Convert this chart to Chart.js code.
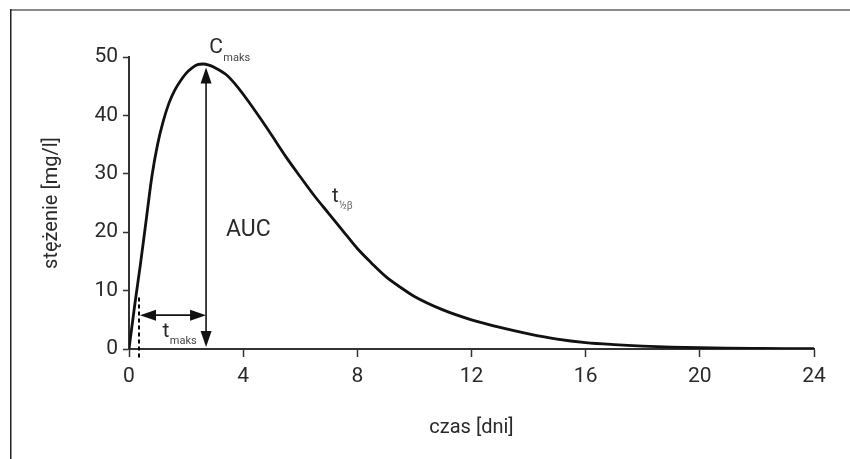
<!DOCTYPE html>
<html>
<head>
<meta charset="utf-8">
<script src="https://cdn.jsdelivr.net/npm/chart.js@4/dist/chart.umd.min.js"></script>
<style>
  html, body { margin: 0; padding: 0; background: #fff; }
  #wrap { position: relative; width: 850px; height: 459px; }
</style>
</head>
<body>
<div id="wrap"><canvas id="c" width="850" height="459"></canvas></div>
<script>
// ---- data ----
const timeDays = [0, 0.2, 0.4, 0.6, 0.8, 1.0, 1.2, 1.4, 1.6, 1.8, 2.0, 2.2, 2.4, 2.6, 2.8, 3.0, 3.4, 3.8, 4.2, 4.6, 5.0, 5.5, 6.0, 6.5, 7.0, 7.5, 8.0, 8.5, 9.0, 9.5, 10, 11, 12, 13, 14, 15, 16, 17, 18, 19, 20, 21, 22, 23, 24];
const concentration = [0, 7.5, 14.5, 22, 29.5, 35, 39, 42.1, 44.3, 45.9, 47.2, 48.1, 48.7, 48.8, 48.6, 48.2, 47.0, 44.9, 42.3, 39.5, 36.6, 32.9, 29.5, 26.2, 23.2, 20.2, 17.2, 14.7, 12.4, 10.6, 9.0, 6.7, 5.0, 3.7, 2.6, 1.7, 1.1, 0.75, 0.5, 0.33, 0.22, 0.15, 0.1, 0.06, 0.04];
const xTicks = [0, 4, 8, 12, 16, 20, 24];
const yTicks = [0, 10, 20, 30, 40, 50];
const xTitle = 'czas [dni]';
const yTitle = 'stężenie [mg/l]';
// annotation anchors (data units)
const tMax = 2.7;          // time of Cmax arrow
const cMaxArrowTop = 48.2;
const tLag = 0.35;         // dashed lag line
const tMaxArrowLevel = 5.8;

const FONT = "'Liberation Sans Narrow', 'Roboto', 'Liberation Sans', sans-serif";
const TXT = '#2a2a2a';

const annot = {
  id: 'annot',
  beforeDraw(chart) {
    const ctx = chart.ctx;
    ctx.save();
    ctx.strokeStyle = '#8a8a8a';
    ctx.lineWidth = 2;
    ctx.beginPath(); ctx.moveTo(10, 10); ctx.lineTo(850, 10); ctx.stroke();
    ctx.strokeStyle = '#222';
    ctx.lineWidth = 1.5;
    ctx.beginPath(); ctx.moveTo(10.75, 9); ctx.lineTo(10.75, 459); ctx.stroke();
    ctx.restore();
  },
  afterDatasetsDraw(chart) {
    const ctx = chart.ctx;
    const xs = chart.scales.x, ys = chart.scales.y;
    const X = v => xs.getPixelForValue(v), Y = v => ys.getPixelForValue(v);
    ctx.save();
    ctx.strokeStyle = '#111';
    ctx.fillStyle = '#111';
    ctx.lineWidth = 1.6;
    function head(x, y, dx, dy) {
      const L = 16, W = 5.5;
      const px = -dy, py = dx;
      ctx.beginPath();
      ctx.moveTo(x, y);
      ctx.lineTo(x - dx * L + px * W, y - dy * L + py * W);
      ctx.lineTo(x - dx * L - px * W, y - dy * L - py * W);
      ctx.closePath();
      ctx.fill();
    }
    const vx = X(tMax), vTop = Y(cMaxArrowTop), vBot = Y(0) - 2;
    ctx.beginPath(); ctx.moveTo(vx, vTop + 8); ctx.lineTo(vx, vBot - 8); ctx.stroke();
    head(vx, vTop, 0, -1);
    head(vx, vBot, 0, 1);
    const hy = Y(tMaxArrowLevel), hl = X(tLag) + 1, hr = vx;
    ctx.beginPath(); ctx.moveTo(hl + 8, hy); ctx.lineTo(hr - 8, hy); ctx.stroke();
    head(hl, hy, -1, 0);
    head(hr, hy, 1, 0);
    // dashed lag line
    ctx.setLineDash([4, 3]);
    ctx.lineWidth = 2;
    ctx.strokeStyle = '#000';
    const dx = Math.round(X(tLag));
    ctx.beginPath(); ctx.moveTo(dx, Y(8.8)); ctx.lineTo(dx, Y(-1.9)); ctx.stroke();
    ctx.setLineDash([]);

    ctx.textBaseline = 'alphabetic';
    ctx.textAlign = 'left';
    function sub(main, subText, x, y, size, subSize, subDy, subColor) {
      ctx.font = size + 'px ' + FONT;
      ctx.fillStyle = TXT;
      ctx.fillText(main, x, y);
      const w = ctx.measureText(main).width;
      ctx.font = subSize + 'px ' + FONT;
      ctx.fillStyle = subColor;
      ctx.fillText(subText, x + w + 0.5, y + subDy);
    }
    sub('C', 'maks', X(2.81), Y(50.7), 21, 11, 8, '#444');
    sub('t', 'maks', X(1.17), Y(2.0), 21, 11, 7, '#444');
    sub('t', '½β', X(7.11), Y(25.2), 20, 10, 7, '#666');
    ctx.font = '23px ' + FONT;
    ctx.fillStyle = TXT;
    ctx.fillText('AUC', X(3.4), Y(19.3));
    ctx.restore();
  }
};

new Chart(document.getElementById('c'), {
  type: 'line',
  data: {
    datasets: [{
      data: timeDays.map((t, i) => ({ x: t, y: concentration[i] })),
      borderColor: '#111',
      borderWidth: 2.8,
      pointRadius: 0,
      fill: false,
      cubicInterpolationMode: 'monotone',
      tension: 0.4
    }]
  },
  options: {
    responsive: false,
    animation: false,
    devicePixelRatio: 1,
    layout: { padding: { left: 0, top: 57, right: 36, bottom: 0 } },
    plugins: { legend: { display: false }, tooltip: { enabled: false } },
    scales: {
      x: {
        type: 'linear', min: 0, max: 24,
        afterBuildTicks(s) { s.ticks = xTicks.map(v => ({ value: v })); },
        afterFit(s) { s.height = 110; },
        grid: { drawOnChartArea: false, drawTicks: true, tickLength: 8, tickColor: '#333', tickWidth: 1.5 },
        border: { color: '#333', width: 2 },
        ticks: { color: TXT, font: { family: FONT, size: 21 }, padding: 7, maxRotation: 0 },
        title: { display: true, text: xTitle, color: TXT, font: { family: FONT, size: 20 }, padding: { bottom: 19, top: 0 } }
      },
      y: {
        type: 'linear', min: 0, max: 50,
        afterBuildTicks(s) { s.ticks = yTicks.map(v => ({ value: v })); },
        afterFit(s) { s.width = 129; },
        grid: { drawOnChartArea: false, drawTicks: true, tickLength: 6, tickColor: '#333', tickWidth: 1.5 },
        border: { color: '#333', width: 2 },
        ticks: { color: TXT, font: { family: FONT, size: 21 }, padding: 5 },
        title: { display: true, text: yTitle, color: TXT, font: { family: FONT, size: 20 }, padding: { top: 40, bottom: 0 } }
      }
    }
  },
  plugins: [annot]
});
</script>
</body>
</html>
